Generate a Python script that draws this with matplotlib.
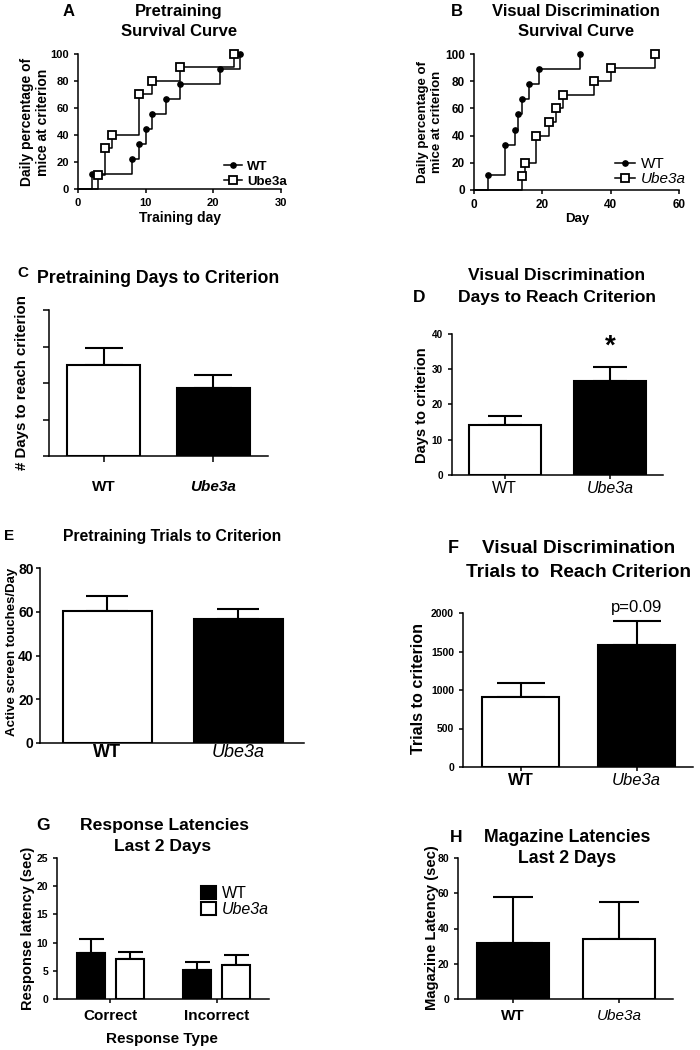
import matplotlib
matplotlib.use('Agg')
import matplotlib.pyplot as plt
import numpy as np

plt.rcParams['font.family'] = ['Liberation Sans', 'DejaVu Sans']
plt.rcParams['font.weight'] = 'bold'
plt.rcParams['axes.linewidth'] = 1.1

W, H = 700, 1050

# ---------------- data ----------------
# A: Pretraining survival curve
a_wt_day = [2, 8, 9, 10, 11, 13, 15, 21, 24]
a_wt_pct = [11.1, 22.2, 33.3, 44.4, 55.6, 66.7, 77.8, 88.9, 100]
a_ube_day = [3, 4, 5, 9, 11, 15, 23]
a_ube_pct = [10, 30, 40, 70, 80, 90, 100]
# B: Visual discrimination survival curve
b_wt_day = [4, 9, 12, 13, 14, 16, 19, 31]
b_wt_pct = [11.1, 33.3, 44.4, 55.6, 66.7, 77.8, 88.9, 100]
b_ube_day = [14, 15, 18, 22, 24, 26, 35, 40, 53]
b_ube_pct = [10, 20, 40, 50, 60, 70, 80, 90, 100]

groups = ['WT', 'Ube3a']
c_mean = [12.5, 9.25]
c_sem = [2.3, 1.9]
d_mean = [14.2, 26.8]
d_sem = [2.6, 3.9]
e_mean = [60.2, 56.7]
e_sem = [7.0, 4.7]
f_mean = [910, 1587]
f_sem = [177, 313]
g_types = ['Correct', 'Incorrect']
g_wt_mean = [8.1, 5.2]
g_wt_sem = [2.5, 1.3]
g_ube_mean = [7.05, 6.1]
g_ube_sem = [1.25, 1.7]
h_mean = [32.0, 34.3]
h_sem = [25.6, 20.5]

fig = plt.figure(figsize=(7, 10.5), dpi=100)


def add_ax(l, t, r, b):
    return fig.add_axes([l / W, 1 - b / H, (r - l) / W, (b - t) / H])


def style(ax, ticklen=3):
    for s in ['top', 'right']:
        ax.spines[s].set_visible(False)
    for s in ['left', 'bottom']:
        ax.spines[s].set_linewidth(1.1)
    ax.tick_params(direction='out', length=ticklen, width=1.1)


def ftext(x, y, s, **kw):
    kw.setdefault('fontweight', 'bold')
    fig.text(x / W, 1 - y / H, s, **kw)


def ylab(x, y, s, size):
    ftext(x, y, s, rotation=90, ha='center', va='center', fontsize=size,
          linespacing=1.15)


# ---------------- A ----------------
axA = add_ax(78, 54, 281, 189)
style(axA)
axA.plot([0] + a_wt_day, [0] + a_wt_pct, drawstyle='steps-post', color='black',
         lw=1.1, clip_on=False)
axA.plot([0] + a_ube_day, [0] + a_ube_pct, drawstyle='steps-post', color='black',
         lw=1.1, clip_on=False)
axA.plot(a_wt_day, a_wt_pct, 'o', color='black', ms=3.8, clip_on=False)
axA.plot(a_ube_day, a_ube_pct, 's', mfc='white', mec='black', mew=1.3,
         ms=5.2, clip_on=False)
axA.set_xlim(0, 30)
axA.set_ylim(0, 100)
axA.set_xticks([0, 10, 20, 30])
axA.set_yticks([0, 20, 40, 60, 80, 100])
axA.tick_params(labelsize=8)
hA1, = axA.plot([], [], '-o', color='black', ms=3.8, lw=1.1)
hA2, = axA.plot([], [], '-s', color='black', mfc='white', mec='black', mew=1.3, ms=5.2, lw=1.1)
legA = axA.legend([hA1, hA2], ['WT', 'Ube3a'], loc='lower right',
                  bbox_to_anchor=(1.06, -0.04), frameon=False, fontsize=9.5,
                  handlelength=1.3, handletextpad=0.4, borderpad=0,
                  labelspacing=0.2)
for t in legA.get_texts():
    t.set_fontweight('bold')
ftext(69, 16, 'A', fontsize=12, ha='center')
ftext(179, 16, 'Pretraining', fontsize=12, ha='center')
ftext(179, 36, 'Survival Curve', fontsize=12, ha='center')
ylab(35, 122, 'Daily percentage of\nmice at criterion', 10)
ftext(180, 222, 'Training day', fontsize=10, ha='center')

# ---------------- B ----------------
axB = add_ax(474, 54, 679, 190)
style(axB)
axB.plot([0] + b_wt_day, [0] + b_wt_pct, drawstyle='steps-post', color='black',
         lw=1.1, clip_on=False)
axB.plot([0] + b_ube_day, [0] + b_ube_pct, drawstyle='steps-post', color='black',
         lw=1.1, clip_on=False)
axB.plot(b_wt_day, b_wt_pct, 'o', color='black', ms=3.8, clip_on=False)
axB.plot(b_ube_day, b_ube_pct, 's', mfc='white', mec='black', mew=1.3, ms=5.2,
         clip_on=False)
axB.set_xlim(0, 60)
axB.set_ylim(0, 100)
axB.set_xticks([0, 20, 40, 60])
axB.set_yticks([0, 20, 40, 60, 80, 100])
axB.tick_params(labelsize=8.5)
hB1, = axB.plot([], [], '-o', color='black', ms=3.8, lw=1.1)
hB2, = axB.plot([], [], '-s', color='black', mfc='white', mec='black', mew=1.3, ms=5.2, lw=1.1)
legB = axB.legend([hB1, hB2], ['WT', 'Ube3a'], loc='lower right',
                  bbox_to_anchor=(1.07, -0.03), frameon=False, fontsize=11,
                  handlelength=1.3, handletextpad=0.4, borderpad=0,
                  labelspacing=0.1)
legB.get_texts()[1].set_fontstyle('italic')
legB.get_texts()[0].set_fontweight('normal')
legB.get_texts()[1].set_fontweight('normal')
ftext(457, 16, 'B', fontsize=12, ha='center')
ftext(576, 16, 'Visual Discrimination', fontsize=12, ha='center')
ftext(576, 36, 'Survival Curve', fontsize=12, ha='center')
ylab(430, 122, 'Daily percentage of\nmice at criterion', 9.5)
ftext(577, 222, 'Day', fontsize=9.5, ha='center')


def bars(ax, means, sems, colors, width, capsize, xpos=None, lw=1.5):
    x = np.arange(len(means)) if xpos is None else xpos
    b = ax.bar(x, means, width=width, color=colors, edgecolor='black',
               linewidth=lw, zorder=2)
    ax.errorbar(x, means, yerr=[np.zeros(len(means)), sems], fmt='none',
                ecolor='black', elinewidth=lw, capsize=capsize, capthick=lw,
                zorder=1)
    return b


# ---------------- C ----------------
axC = add_ax(49, 310, 268, 456)
style(axC, ticklen=4)
bars(axC, c_mean, c_sem, ['white', 'black'], 0.67, 13.5)
axC.set_xlim(-0.5, 1.5)
axC.set_ylim(0, 20)
axC.set_yticks([0, 5, 10, 15, 20])
axC.set_yticklabels([])
axC.set_xticks([0, 1])
axC.set_xticklabels(groups, fontsize=11, fontweight='bold')
axC.get_xticklabels()[1].set_fontstyle('italic')
axC.tick_params(axis='x', pad=13)
ftext(23, 277, 'C', fontsize=11, ha='center')
ftext(158, 283, 'Pretraining Days to Criterion', fontsize=12.8, ha='center')
ylab(22, 383, '# Days to reach criterion', 10.8)

# ---------------- D ----------------
axD = add_ax(452, 334, 663, 475)
style(axD)
bars(axD, d_mean, d_sem, ['white', 'black'], 0.68, 12)
axD.set_xlim(-0.5, 1.5)
axD.set_ylim(0, 40)
axD.set_yticks([0, 10, 20, 30, 40])
axD.tick_params(axis='y', labelsize=7.2)
axD.set_xticks([0, 1])
axD.set_xticklabels(groups, fontsize=11.5, fontweight='normal')
axD.get_xticklabels()[1].set_fontstyle('italic')
axD.tick_params(axis='x', pad=1.5)
axD.text(1, d_mean[1] + d_sem[1] + 5.8, '*', ha='center', va='center',
         fontsize=20, fontweight='bold')
ftext(557, 280, 'Visual Discrimination', fontsize=12.6, ha='center')
ftext(557, 302, 'Days to Reach Criterion', fontsize=12.6, ha='center')
ftext(419, 302, 'D', fontsize=12.5, ha='center')
ylab(422, 405, 'Days to criterion', 10.5)

# ---------------- E ----------------
axE = add_ax(40, 568, 304, 743)
style(axE)
bars(axE, e_mean, e_sem, ['white', 'black'], 0.68, 15)
axE.set_xlim(-0.515, 1.5)
axE.set_ylim(0, 80)
axE.set_yticks([0, 20, 40, 60, 80])
axE.tick_params(axis='y', labelsize=10, pad=1.5)
axE.set_xticks([0, 1])
axE.set_xticklabels(groups, fontsize=13)
axE.get_xticklabels()[0].set_fontweight('bold')
axE.get_xticklabels()[1].set_fontweight('normal')
axE.get_xticklabels()[1].set_fontstyle('italic')
axE.tick_params(axis='x', pad=0.5, length=0)
ftext(9, 540, 'E', fontsize=11, ha='center')
ftext(172, 541, 'Pretraining Trials to Criterion', fontsize=11.3, ha='center')
ylab(12, 652, 'Active screen touches/Day', 9.5)

# ---------------- F ----------------
axF = add_ax(463, 613, 693, 767)
style(axF)
bars(axF, f_mean, f_sem, ['white', 'black'], 0.67, 17)
axF.set_xlim(-0.496, 1.487)
axF.set_ylim(0, 2000)
axF.set_yticks([0, 500, 1000, 1500, 2000])
axF.tick_params(axis='y', labelsize=7.5)
axF.set_xticks([0, 1])
axF.set_xticklabels(groups, fontsize=12)
axF.get_xticklabels()[0].set_fontweight('bold')
axF.get_xticklabels()[1].set_fontweight('normal')
axF.get_xticklabels()[1].set_fontstyle('italic')
axF.tick_params(axis='x', pad=1.5)
axF.text(1, f_mean[1] + f_sem[1] + 75, 'p=0.09', ha='center', va='bottom',
         fontsize=12, fontweight='normal')
ftext(453, 553, 'F', fontsize=13, ha='center')
ftext(579, 553, 'Visual Discrimination', fontsize=13.7, ha='center')
ftext(578, 577, 'Trials to  Reach Criterion', fontsize=13.7, ha='center')
ylab(418, 688, 'Trials to criterion', 11.6)

# ---------------- G ----------------
axG = add_ax(57, 858, 269, 999)
style(axG)
gx = np.arange(len(g_types))
off = 0.183
bw = bars(axG, g_wt_mean, g_wt_sem, ['black', 'black'], 0.265, 9, xpos=gx - off)
bu = bars(axG, g_ube_mean, g_ube_sem, ['white', 'white'], 0.265, 9, xpos=gx + off)
axG.set_xlim(-0.5, 1.49)
axG.set_ylim(0, 25)
axG.set_yticks([0, 5, 10, 15, 20, 25])
axG.tick_params(axis='y', labelsize=7.5)
axG.set_xticks(gx)
axG.set_xticklabels(g_types, fontsize=11, fontweight='bold')
axG.tick_params(axis='x', pad=4)
legG = axG.legend([bw, bu], ['WT', 'Ube3a'], loc='upper left',
                  bbox_to_anchor=(0.642, 0.86), frameon=False, fontsize=11.5,
                  handlelength=0.95, handleheight=0.85, handletextpad=0.35,
                  borderpad=0, labelspacing=0.1)
for t in legG.get_texts():
    t.set_fontweight('normal')
legG.get_texts()[1].set_fontstyle('italic')
ftext(43, 830, 'G', fontsize=12.5, ha='center')
ftext(164, 830, 'Response Latencies', fontsize=12.6, ha='center')
ftext(163, 851, 'Last 2 Days', fontsize=12.6, ha='center')
ftext(162, 1043, 'Response Type', fontsize=11, ha='center')
ylab(28, 928, 'Response latency (sec)', 10.5)

# ---------------- H ----------------
axH = add_ax(458, 858, 673, 999)
style(axH)
bars(axH, h_mean, h_sem, ['black', 'white'], 0.68, 14.5)
axH.set_xlim(-0.52, 1.51)
axH.set_ylim(0, 80)
axH.set_yticks([0, 20, 40, 60, 80])
axH.tick_params(axis='y', labelsize=7.5)
axH.set_xticks([0, 1])
axH.set_xticklabels(groups, fontsize=11)
axH.get_xticklabels()[1].set_fontweight('normal')
axH.get_xticklabels()[1].set_fontstyle('italic')
axH.tick_params(axis='x', pad=4)
ftext(456, 842, 'H', fontsize=12.5, ha='center')
ftext(567, 842, 'Magazine Latencies', fontsize=12.7, ha='center')
ftext(567, 863, 'Last 2 Days', fontsize=12.7, ha='center')
ylab(432, 928, 'Magazine Latency (sec)', 10.6)

fig.savefig('out.png', dpi=100)
